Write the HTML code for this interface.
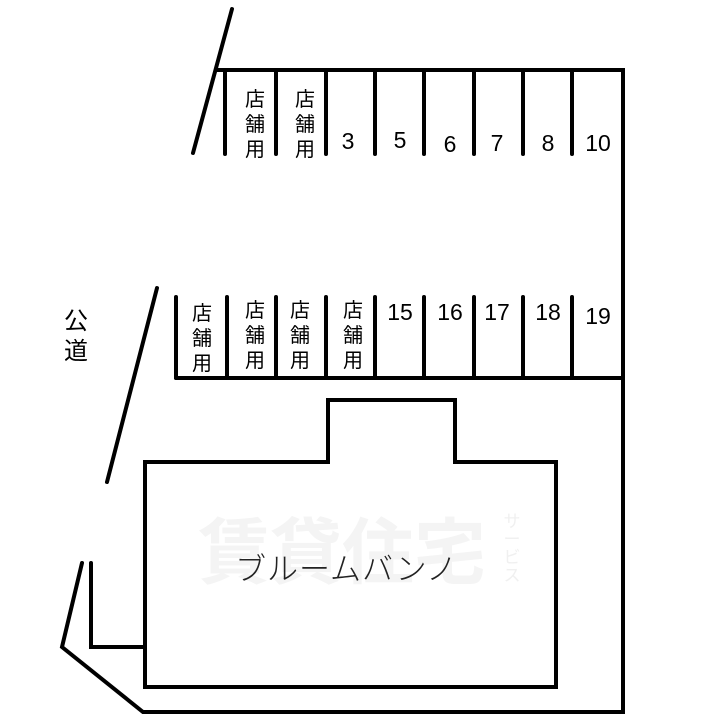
<!DOCTYPE html>
<html><head><meta charset="utf-8"><style>
html,body{margin:0;padding:0;background:#fff;}
svg{display:block;}
text{font-family:"Liberation Sans","Noto Sans CJK JP",sans-serif;}
</style></head><body>
<svg width="720" height="720" viewBox="0 0 720 720" xmlns="http://www.w3.org/2000/svg">
<g fill="#f4f4f4" font-weight="bold" font-size="72">
<text x="198" y="578" font-family="Noto Sans CJK JP,sans-serif">賃貸住宅</text>
</g>
<g fill="#f0f0f0" font-size="17" text-anchor="middle">
<text x="512" y="527">サ</text><text x="512" y="545">ー</text><text x="512" y="563">ビ</text><text x="512" y="581">ス</text>
</g>
<g stroke="#000" stroke-width="4" fill="none" stroke-linecap="round" stroke-linejoin="miter">
<polyline points="217,70 623,70 623,712 143,712 62,647 82,563"/>
<line x1="232" y1="9" x2="193" y2="153"/>
<line x1="225" y1="72" x2="225" y2="154"/>
<line x1="276" y1="72" x2="276" y2="154"/>
<line x1="326" y1="72" x2="326" y2="154"/>
<line x1="375" y1="72" x2="375" y2="154"/>
<line x1="424" y1="72" x2="424" y2="154"/>
<line x1="474" y1="72" x2="474" y2="154"/>
<line x1="523" y1="72" x2="523" y2="154"/>
<line x1="572" y1="72" x2="572" y2="154"/>
<line x1="176" y1="378" x2="621" y2="378"/>
<line x1="176" y1="297" x2="176" y2="378"/>
<line x1="227" y1="297" x2="227" y2="378"/>
<line x1="276" y1="297" x2="276" y2="378"/>
<line x1="326" y1="297" x2="326" y2="378"/>
<line x1="375" y1="297" x2="375" y2="378"/>
<line x1="424" y1="297" x2="424" y2="378"/>
<line x1="474" y1="297" x2="474" y2="378"/>
<line x1="523" y1="297" x2="523" y2="378"/>
<line x1="572" y1="297" x2="572" y2="378"/>
<line x1="157" y1="288" x2="107" y2="482"/>
<polygon points="145,462 328,462 328,400 455,400 455,462 556,462 556,687 145,687"/>
<polyline points="91,563 91,647 145,647"/>
</g>
<g font-size="20" text-anchor="middle" fill="#000">
<text x="255" y="106">店</text><text x="255" y="131">舗</text><text x="255" y="156">用</text>
<text x="305" y="106">店</text><text x="305" y="131">舗</text><text x="305" y="156">用</text>
<text x="202" y="320">店</text><text x="202" y="345">舗</text><text x="202" y="370">用</text>
<text x="255" y="317">店</text><text x="255" y="342">舗</text><text x="255" y="367">用</text>
<text x="300" y="317">店</text><text x="300" y="342">舗</text><text x="300" y="367">用</text>
<text x="353" y="317">店</text><text x="353" y="342">舗</text><text x="353" y="367">用</text>
</g>
<g font-size="23" text-anchor="middle" fill="#000">
<text x="348" y="149">3</text><text x="400" y="148">5</text><text x="450" y="152">6</text>
<text x="497" y="151">7</text><text x="548" y="151">8</text><text x="598" y="151">10</text>
<text x="400" y="320">15</text><text x="450" y="320">16</text><text x="497" y="320">17</text>
<text x="548" y="320">18</text><text x="598" y="324">19</text>
</g>
<g font-size="24" text-anchor="middle" fill="#000">
<text x="76" y="329">公</text><text x="76" y="359">道</text>
</g>
<text x="346" y="580" font-size="31" font-weight="300" text-anchor="middle" fill="#222" textLength="222" font-family="Noto Sans CJK JP,sans-serif">ブルームバンノ</text>
</svg>
</body></html>
